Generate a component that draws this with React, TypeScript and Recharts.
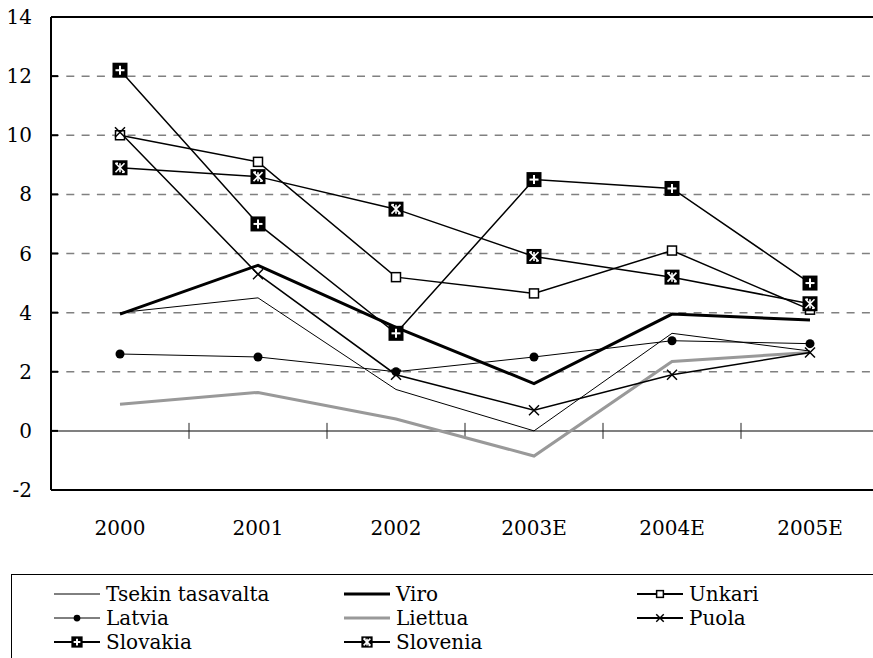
import React from "react";
import {
  LineChart,
  Line,
  XAxis,
  YAxis,
  CartesianGrid,
  ReferenceLine,
} from "recharts";

const years = ["2000", "2001", "2002", "2003E", "2004E", "2005E"];
const yTicks = [-2, 0, 2, 4, 6, 8, 10, 12, 14];

const tsekin = [4.0, 4.5, 1.4, 0.0, 3.3, 2.7];
const viro = [3.95, 5.6, 3.5, 1.6, 3.95, 3.75];
const unkari = [10.0, 9.1, 5.2, 4.65, 6.1, 4.1];
const latvia = [2.6, 2.5, 2.0, 2.5, 3.05, 2.95];
const liettua = [0.9, 1.3, 0.4, -0.85, 2.35, 2.65];
const puola = [10.1, 5.3, 1.9, 0.7, 1.9, 2.65];
const slovakia = [12.2, 7.0, 3.3, 8.5, 8.2, 5.0];
const slovenia = [8.9, 8.6, 7.5, 5.9, 5.2, 4.3];

type Kind = "none" | "square" | "circle" | "x" | "plus" | "star";

const series: { key: string; name: string; values: number[]; color: string; width: number; marker: Kind }[] = [
  { key: "tsekin", name: "Tsekin tasavalta", values: tsekin, color: "#000", width: 1, marker: "none" },
  { key: "viro", name: "Viro", values: viro, color: "#000", width: 3, marker: "none" },
  { key: "unkari", name: "Unkari", values: unkari, color: "#000", width: 1.5, marker: "square" },
  { key: "latvia", name: "Latvia", values: latvia, color: "#000", width: 1, marker: "circle" },
  { key: "liettua", name: "Liettua", values: liettua, color: "#999", width: 3, marker: "none" },
  { key: "puola", name: "Puola", values: puola, color: "#000", width: 1.5, marker: "x" },
  { key: "slovakia", name: "Slovakia", values: slovakia, color: "#000", width: 1.5, marker: "plus" },
  { key: "slovenia", name: "Slovenia", values: slovenia, color: "#000", width: 1.5, marker: "star" },
];

const rows = years.map((year, i) => {
  const row: Record<string, string | number> = { year };
  series.forEach((s) => (row[s.key] = s.values[i]));
  return row;
});

const FONT = "'DejaVu Serif', serif";

function Marker({ kind, cx, cy, k = 1 }: { kind: Kind; cx: number; cy: number; k?: number }) {
  if (kind === "square") {
    const h = 4.5 * k;
    return <rect x={cx - h} y={cy - h} width={2 * h} height={2 * h} fill="#fff" stroke="#000" strokeWidth={1.5} />;
  }
  if (kind === "circle") return <circle cx={cx} cy={cy} r={4.5 * k} fill="#000" />;
  if (kind === "x") {
    const h = 5 * k;
    return (
      <g stroke="#000" strokeWidth={1.5}>
        <line x1={cx - h} y1={cy - h} x2={cx + h} y2={cy + h} />
        <line x1={cx - h} y1={cy + h} x2={cx + h} y2={cy - h} />
      </g>
    );
  }
  if (kind === "plus" || kind === "star") {
    const h = 7.5 * k;
    const a = 4.5 * k;
    return (
      <g>
        <rect x={cx - h} y={cy - h} width={2 * h} height={2 * h} fill="#000" />
        {kind === "plus" ? (
          <g stroke="#fff" strokeWidth={2}>
            <line x1={cx - a} y1={cy} x2={cx + a} y2={cy} />
            <line x1={cx} y1={cy - a} x2={cx} y2={cy + a} />
          </g>
        ) : (
          <g stroke="#fff" strokeWidth={1.6}>
            <line x1={cx - a} y1={cy - a} x2={cx + a} y2={cy + a} />
            <line x1={cx - a} y1={cy + a} x2={cx + a} y2={cy - a} />
            <line x1={cx} y1={cy - a} x2={cx} y2={cy + a} />
            <line x1={cx - a} y1={cy - a} x2={cx - a + 2.5 * k} y2={cy - a} />
            <line x1={cx + a - 2.5 * k} y1={cy + a} x2={cx + a} y2={cy + a} />
          </g>
        )}
      </g>
    );
  }
  return null;
}

// zero line with the category separator ticks
function ZeroLine(props: any) {
  const { x1, x2, y1 } = props;
  const n = years.length;
  const step = (x2 - x1) / n;
  return (
    <g>
      <line x1={x1} y1={y1} x2={x2} y2={y1} stroke="#808080" strokeWidth={2} />
      {years.slice(1).map((_, i) => (
        <line key={i} x1={x1 + step * (i + 1)} x2={x1 + step * (i + 1)} y1={y1 - 8} y2={y1 + 8} stroke="#222" strokeWidth={1} />
      ))}
    </g>
  );
}

const legendCols = [42, 332, 625];
const legendRows = [19, 43, 67];

function LegendBox() {
  return (
    <div
      style={{
        position: "absolute",
        left: 11,
        top: 574,
        width: 900,
        height: 200,
        border: "1.5px solid #000",
        fontFamily: FONT,
        fontSize: 20,
      }}
    >
      {series.map((s, i) => (
        <div
          key={s.key}
          style={{
            position: "absolute",
            left: legendCols[i % 3],
            top: legendRows[Math.floor(i / 3)] - 14,
            height: 28,
            display: "flex",
            alignItems: "center",
            whiteSpace: "nowrap",
          }}
        >
          <svg width={46} height={28} style={{ display: "block" }}>
            <line x1={0} y1={14} x2={46} y2={14} stroke={s.color} strokeWidth={s.width === 1 ? 1 : s.width === 3 ? 3 : 2} />
            <Marker kind={s.marker} cx={23} cy={14} k={0.75} />
          </svg>
          <span style={{ marginLeft: 6, lineHeight: "28px" }}>{s.name}</span>
        </div>
      ))}
    </div>
  );
}

const tickStyle = { fill: "#000", fontFamily: FONT, fontSize: 20 };

export default function App() {
  return (
    <div style={{ position: "fixed", left: 0, top: 0, width: 873, height: 658, overflow: "hidden", background: "#fff", fontFamily: FONT }}>
      <LineChart width={890} height={658} data={rows} margin={{ top: 17, right: 11, bottom: 108, left: 0 }} style={{ fontFamily: FONT }}>
        <CartesianGrid vertical={false} stroke="#808080" strokeWidth={1.5} strokeDasharray="8 7.3" />
        <XAxis
          dataKey="year"
          padding={{ left: 69, right: 69 }}
          axisLine={{ stroke: "#000", strokeWidth: 2 }}
          tickLine={false}
          tickSize={0}
          tickMargin={31}
          height={60}
          interval={0}
          tick={tickStyle}
        />
        <YAxis
          domain={[-2, 14]}
          ticks={yTicks}
          interval={0}
          width={51}
          axisLine={{ stroke: "#000", strokeWidth: 2 }}
          tickLine={{ stroke: "#000", strokeWidth: 2 }}
          tickSize={-7}
          tickMargin={26}
          tick={tickStyle}
        />
        <ReferenceLine y={14} stroke="#000" strokeWidth={2} />
        <ReferenceLine y={0} shape={ZeroLine} />
        {series.map((s) => (
          <Line
            key={s.key}
            dataKey={s.key}
            name={s.name}
            type="linear"
            stroke={s.color}
            strokeWidth={s.width}
            isAnimationActive={false}
            dot={
              s.marker === "none"
                ? false
                : (p: any) => <Marker key={`${s.key}-${p.index}`} kind={s.marker} cx={p.cx} cy={p.cy} />
            }
            activeDot={false}
          />
        ))}
      </LineChart>
      <LegendBox />
    </div>
  );
}
